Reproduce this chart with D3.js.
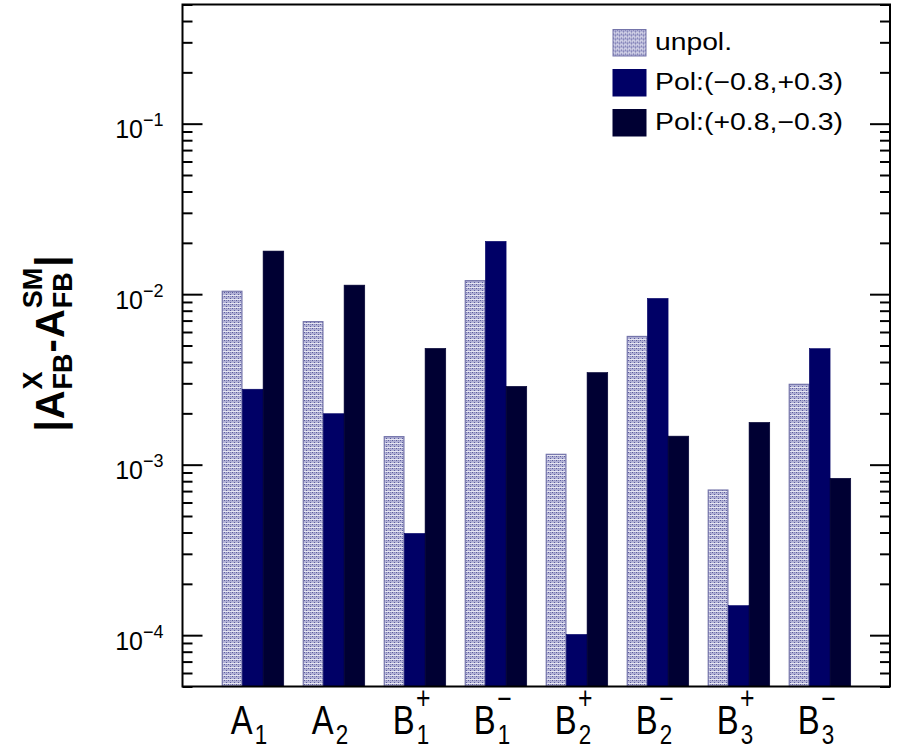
<!DOCTYPE html>
<meta charset="utf-8">
<style>
  body { margin: 0; background: #fff; }
  text { font-family: "Liberation Sans", Arial, Helvetica, sans-serif; fill: #000; }
</style>
<body>
<svg width="897" height="753"></svg>

<script src="https://d3js.org/d3.v7.min.js"></script>
<script>

// data
var categories = ["A1", "A2", "B1+", "B1-", "B2+", "B2-", "B3+", "B3-"];
var labelBase = ["A", "A", "B", "B", "B", "B", "B", "B"];
var labelSub  = ["1", "2", "1", "1", "2", "2", "3", "3"];
var labelSup  = ["", "", "+", "\u2212", "+", "\u2212", "+", "\u2212"];

var seriesNames = ["unpol.", "Pol:(\u22120.8,+0.3)", "Pol:(+0.8,\u22120.3)"];
var unpol    = [0.0104, 0.0069, 0.00146, 0.0120, 0.00115, 0.00565, 0.00071, 0.00296];
var polMinus = [0.00277, 0.00199, 0.000395, 0.0204, 0.000101, 0.00944, 0.000149, 0.00479];
var polPlus  = [0.0179, 0.0113, 0.00481, 0.00288, 0.00347, 0.00147, 0.00177, 0.000832];

var majorTicks = [1e-4, 1e-3, 1e-2, 1e-1];
var yMin = 5e-5, yMax = 0.5;

// frame edges (note: "top" is taken by window.top)
var svg = d3.select("svg"),
    frameL = 182.5, frameR = 890, frameT = 4.5, frameB = 686.5;

var series = [unpol, polMinus, polPlus];
var colors = ["url(#dots)", "#000066", "#000033"];
var strokes = ["#7474aa", "#000066", "#000033"];

// dotted fill of the unpolarised bars
var defs = svg.append("defs");
var pat = defs.append("pattern")
    .attr("id", "dots")
    .attr("patternUnits", "userSpaceOnUse")
    .attr("width", 4).attr("height", 4);
pat.append("rect").attr("width", 4).attr("height", 4).attr("fill", "#b2b2d6");
pat.append("rect").attr("x", 0).attr("y", 0).attr("width", 1).attr("height", 1).attr("fill", "#5c5c9c");
pat.append("rect").attr("x", 2).attr("y", 2).attr("width", 1).attr("height", 1).attr("fill", "#5c5c9c");
pat.append("rect").attr("x", 2).attr("y", 0).attr("width", 1).attr("height", 1).attr("fill", "#8686b8");
pat.append("rect").attr("x", 0).attr("y", 3).attr("width", 4).attr("height", 1).attr("fill", "#e6e6f2");

var y = d3.scaleLog().domain([yMin, yMax]).range([frameB, frameT]);

var x0 = d3.scaleBand()
    .domain(categories)
    .range([frameL, frameR])
    .paddingInner(0.2346)
    .paddingOuter(0.4848);

var x1 = d3.scaleBand()
    .domain(d3.range(series.length))
    .range([0, x0.bandwidth()]);

// bars
series.forEach(function(vals, s) {
  svg.append("g").selectAll("rect")
    .data(vals)
    .join("rect")
      .attr("x", function(d, i) { return x0(categories[i]) + x1(s) + (s == 0 ? 0.5 : 0); })
      .attr("y", function(d) { return y(d); })
      .attr("width", x1.bandwidth() - (s == 0 ? 1 : 0))
      .attr("height", function(d) { return frameB - y(d); })
      .attr("fill", colors[s])
      .attr("stroke", strokes[s])
      .attr("stroke-width", s == 0 ? 1.2 : 0.6);
});

// minor ticks: 2..9 of every decade inside the range
var minorTicks = [];
for (var e = -5; e <= -1; e++) {
  for (var m = 2; m <= 9; m++) {
    var v = m * Math.pow(10, e);
    if (v >= yMin && v <= yMax) minorTicks.push(v);
  }
}

function tickStyle(g) {
  g.select(".domain").remove();
  g.selectAll(".tick line").attr("stroke", "#000").attr("stroke-width", 2);
}

svg.append("g")
    .attr("transform", "translate(" + frameL + ",0)")
    .call(d3.axisLeft(y).tickValues(minorTicks).tickSize(-10).tickFormat(function() { return ""; }))
    .call(tickStyle);

svg.append("g")
    .attr("transform", "translate(" + frameR + ",0)")
    .call(d3.axisRight(y).tickValues(minorTicks).tickSize(-10).tickFormat(function() { return ""; }))
    .call(tickStyle);

svg.append("g")
    .attr("transform", "translate(" + frameR + ",0)")
    .call(d3.axisRight(y).tickValues(majorTicks).tickSize(-20).tickFormat(function() { return ""; }))
    .call(tickStyle);

var yAxis = svg.append("g")
    .attr("transform", "translate(" + frameL + ",0)")
    .call(d3.axisLeft(y).tickValues(majorTicks).tickSize(-20).tickPadding(19).tickFormat(function() { return ""; }))
    .call(tickStyle);

// labels 10^-n with a raised exponent
yAxis.selectAll(".tick text").each(function(d) {
  var t = d3.select(this)
      .attr("dy", null)
      .attr("y", 14)
      .attr("font-size", 25);
  t.append("tspan").text("10");
  t.append("tspan")
      .attr("font-size", 18)
      .attr("dy", -12)
      .text("\u2212" + Math.round(-Math.log10(d)));
});

// frame
svg.append("rect")
    .attr("x", frameL).attr("y", frameT)
    .attr("width", frameR - frameL).attr("height", frameB - frameT)
    .attr("fill", "none")
    .attr("stroke", "#000")
    .attr("stroke-width", 2);

// x labels: base letter with stacked super/subscript
var xl = svg.append("g").selectAll("g")
    .data(categories)
    .join("g")
      .attr("transform", function(d) {
        return "translate(" + (x0(d) + x0.bandwidth() / 2 - 22) + ",734) scale(0.8,1)";
      });

xl.append("text")
    .attr("font-size", 41)
    .text(function(d, i) { return labelBase[i]; });
xl.append("text")
    .attr("x", 30)
    .attr("y", 10)
    .attr("font-size", 28)
    .text(function(d, i) { return labelSub[i]; });
xl.append("text")
    .attr("x", 29)
    .attr("y", -25)
    .attr("font-size", 31)
    .text(function(d, i) { return labelSup[i]; });

// y title |A^X_FB - A^SM_FB|, pieces laid out along the baseline
var titleParts = [
  {t: "|", size: 40, dy: 0},
  {t: "A", size: 40, dy: 0},
  {t: "X", size: 27, dy: -22, stack: "FB"},
  {t: "-", size: 40, dy: 0},
  {t: "A", size: 40, dy: 0},
  {t: "SM", size: 27, dy: -22, stack: "FB"},
  {t: "|", size: 40, dy: 0}
];

var title = svg.append("g")
    .attr("transform", "translate(64,343) rotate(-90)")
    .attr("font-weight", "bold");

var cursor = 0;
titleParts.forEach(function(p) {
  var a = title.append("text")
      .attr("x", cursor).attr("y", p.dy)
      .attr("font-size", p.size)
      .text(p.t);
  var w = a.node().getComputedTextLength();
  if (p.stack) {
    var b = title.append("text")
        .attr("x", cursor).attr("y", 8)
        .attr("font-size", p.size)
        .text(p.stack);
    w = Math.max(w, b.node().getComputedTextLength());
  }
  cursor += w + 1;
});
title.selectAll("text").attr("x", function() { return +d3.select(this).attr("x") - cursor / 2; });

// legend
var legend = svg.append("g").selectAll("g")
    .data(seriesNames)
    .join("g")
      .attr("transform", function(d, i) { return "translate(613," + (29.5 + 40 * i) + ")"; });

legend.append("rect")
    .attr("width", 33).attr("height", 26.5)
    .attr("fill", function(d, i) { return colors[i]; })
    .attr("stroke", function(d, i) { return strokes[i]; })
    .attr("stroke-width", 1);

legend.append("text")
    .attr("x", 42)
    .attr("y", 20)
    .attr("font-size", 23.5)
    .attr("textLength", function(d, i) { return i == 0 ? 77 : 188; })
    .attr("lengthAdjust", "spacingAndGlyphs")
    .text(function(d) { return d; });

</script>
